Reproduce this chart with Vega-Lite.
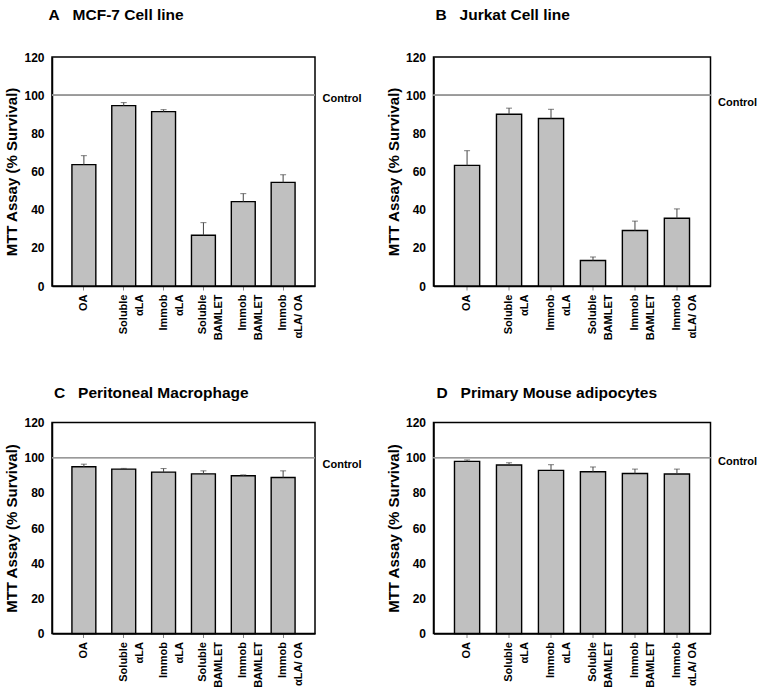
{
  "$schema": "https://vega.github.io/schema/vega-lite/v6.json",
  "padding": {"left": 4, "top": 7, "right": 10, "bottom": 20},
  "background": "white",
  "datasets": {
    "A": [
      {"cat": "OA", "mean": 63.6, "upper": 68.3},
      {"cat": "Soluble|αLA", "mean": 94.5, "upper": 96.1},
      {"cat": "Immob|αLA", "mean": 91.4, "upper": 92.4},
      {"cat": "Soluble|BAMLET", "mean": 26.6, "upper": 33.2},
      {"cat": "Immob|BAMLET", "mean": 44.2, "upper": 48.4},
      {"cat": "Immob|αLA/ OA", "mean": 54.3, "upper": 58.3}
    ],
    "B": [
      {"cat": "OA", "mean": 63.2, "upper": 70.9},
      {"cat": "Soluble|αLA", "mean": 90.0, "upper": 93.2},
      {"cat": "Immob|αLA", "mean": 87.8, "upper": 92.6},
      {"cat": "Soluble|BAMLET", "mean": 13.4, "upper": 15.2},
      {"cat": "Immob|BAMLET", "mean": 29.1, "upper": 34.0},
      {"cat": "Immob|αLA/ OA", "mean": 35.5, "upper": 40.4}
    ],
    "C": [
      {"cat": "OA", "mean": 94.8, "upper": 96.3},
      {"cat": "Soluble|αLA", "mean": 93.5, "upper": 93.9},
      {"cat": "Immob|αLA", "mean": 91.8, "upper": 93.8},
      {"cat": "Soluble|BAMLET", "mean": 90.8, "upper": 92.5},
      {"cat": "Immob|BAMLET", "mean": 89.7, "upper": 90.2},
      {"cat": "Immob|αLA/ OA", "mean": 88.7, "upper": 92.5}
    ],
    "D": [
      {"cat": "OA", "mean": 97.9, "upper": 98.7},
      {"cat": "Soluble|αLA", "mean": 95.8, "upper": 97.1},
      {"cat": "Immob|αLA", "mean": 92.8, "upper": 96.0},
      {"cat": "Soluble|BAMLET", "mean": 92.0, "upper": 94.7},
      {"cat": "Immob|BAMLET", "mean": 91.0, "upper": 93.5},
      {"cat": "Immob|αLA/ OA", "mean": 90.7, "upper": 93.5}
    ]
  },
  "columns": 2,
  "spacing": {"row": 136.5, "column": 118.5},
  "bounds": "flush",
  "concat": [
    {
      "width": 263, "height": 229,
      "title": {"text": "A\u00a0\u00a0\u00a0MCF-7 Cell line", "anchor": "start", "frame": "group", "offset": 27.5, "dx": -3.5},
      "data": {"name": "A"},
      "layer": [
        {"mark": {"type": "bar", "fill": "#c0c0c0", "stroke": "#000", "strokeWidth": 1.4},
         "encoding": {"x": {"field": "cat", "type": "nominal", "sort": null, "title": null, "scale": {"paddingInner": 0.4, "paddingOuter": 0.5}},
                      "y": {"field": "mean", "type": "quantitative", "scale": {"domain": [0, 120], "nice": false}, "axis": {"values": [0, 20, 40, 60, 80, 100, 120], "title": "MTT Assay (% Survival)"}}}},
        {"mark": {"type": "rule", "color": "#444", "strokeWidth": 1},
         "encoding": {"x": {"field": "cat", "type": "nominal", "sort": null, "title": null},
                      "y": {"field": "mean", "type": "quantitative", "scale": {"domain": [0, 120], "nice": false}, "axis": null}, "y2": {"field": "upper"}}},
        {"mark": {"type": "tick", "color": "#444", "thickness": 1, "size": 6},
         "encoding": {"x": {"field": "cat", "type": "nominal", "sort": null, "title": null},
                      "y": {"field": "upper", "type": "quantitative", "scale": {"domain": [0, 120], "nice": false}, "axis": null}}},
        {"mark": {"type": "rule", "color": "#999", "strokeWidth": 1},
         "encoding": {"y": {"datum": 100, "type": "quantitative", "scale": {"domain": [0, 120], "nice": false}, "axis": {"orient": "right", "values": [100], "labelExpr": "'Control'", "title": null, "labelOffset": 3}}}}
      ],
      "resolve": {"axis": {"y": "independent"}}
    },
    {
      "width": 277, "height": 229,
      "title": {"text": "B\u00a0\u00a0\u00a0Jurkat Cell line", "anchor": "start", "frame": "group", "offset": 27.5, "dx": 2},
      "data": {"name": "B"},
      "layer": [
        {"mark": {"type": "bar", "fill": "#c0c0c0", "stroke": "#000", "strokeWidth": 1.4},
         "encoding": {"x": {"field": "cat", "type": "nominal", "sort": null, "title": null, "scale": {"paddingInner": 0.4, "paddingOuter": 0.5}},
                      "y": {"field": "mean", "type": "quantitative", "scale": {"domain": [0, 120], "nice": false}, "axis": {"values": [0, 20, 40, 60, 80, 100, 120], "title": "MTT Assay (% Survival)"}}}},
        {"mark": {"type": "rule", "color": "#444", "strokeWidth": 1},
         "encoding": {"x": {"field": "cat", "type": "nominal", "sort": null, "title": null},
                      "y": {"field": "mean", "type": "quantitative", "scale": {"domain": [0, 120], "nice": false}, "axis": null}, "y2": {"field": "upper"}}},
        {"mark": {"type": "tick", "color": "#444", "thickness": 1, "size": 6},
         "encoding": {"x": {"field": "cat", "type": "nominal", "sort": null, "title": null},
                      "y": {"field": "upper", "type": "quantitative", "scale": {"domain": [0, 120], "nice": false}, "axis": null}}},
        {"mark": {"type": "rule", "color": "#999", "strokeWidth": 1},
         "encoding": {"y": {"datum": 100, "type": "quantitative", "scale": {"domain": [0, 120], "nice": false}, "axis": {"orient": "right", "values": [100], "labelExpr": "'Control'", "title": null, "labelOffset": 7}}}}
      ],
      "resolve": {"axis": {"y": "independent"}}
    },
    {
      "width": 263, "height": 211,
      "title": {"text": "C\u00a0\u00a0\u00a0Peritoneal Macrophage", "anchor": "start", "frame": "group", "offset": 15.5, "dx": 2},
      "data": {"name": "C"},
      "layer": [
        {"mark": {"type": "bar", "fill": "#c0c0c0", "stroke": "#000", "strokeWidth": 1.4},
         "encoding": {"x": {"field": "cat", "type": "nominal", "sort": null, "title": null, "scale": {"paddingInner": 0.4, "paddingOuter": 0.5}},
                      "y": {"field": "mean", "type": "quantitative", "scale": {"domain": [0, 120], "nice": false}, "axis": {"values": [0, 20, 40, 60, 80, 100, 120], "title": "MTT Assay (% Survival)"}}}},
        {"mark": {"type": "rule", "color": "#444", "strokeWidth": 1},
         "encoding": {"x": {"field": "cat", "type": "nominal", "sort": null, "title": null},
                      "y": {"field": "mean", "type": "quantitative", "scale": {"domain": [0, 120], "nice": false}, "axis": null}, "y2": {"field": "upper"}}},
        {"mark": {"type": "tick", "color": "#444", "thickness": 1, "size": 6},
         "encoding": {"x": {"field": "cat", "type": "nominal", "sort": null, "title": null},
                      "y": {"field": "upper", "type": "quantitative", "scale": {"domain": [0, 120], "nice": false}, "axis": null}}},
        {"mark": {"type": "rule", "color": "#999", "strokeWidth": 1},
         "encoding": {"y": {"datum": 100, "type": "quantitative", "scale": {"domain": [0, 120], "nice": false}, "axis": {"orient": "right", "values": [100], "labelExpr": "'Control'", "title": null, "labelOffset": 7}}}}
      ],
      "resolve": {"axis": {"y": "independent"}}
    },
    {
      "width": 277, "height": 211,
      "title": {"text": "D\u00a0\u00a0\u00a0Primary Mouse adipocytes", "anchor": "start", "frame": "group", "offset": 15.5, "dx": 3},
      "data": {"name": "D"},
      "layer": [
        {"mark": {"type": "bar", "fill": "#c0c0c0", "stroke": "#000", "strokeWidth": 1.4},
         "encoding": {"x": {"field": "cat", "type": "nominal", "sort": null, "title": null, "scale": {"paddingInner": 0.4, "paddingOuter": 0.5}},
                      "y": {"field": "mean", "type": "quantitative", "scale": {"domain": [0, 120], "nice": false}, "axis": {"values": [0, 20, 40, 60, 80, 100, 120], "title": "MTT Assay (% Survival)"}}}},
        {"mark": {"type": "rule", "color": "#444", "strokeWidth": 1},
         "encoding": {"x": {"field": "cat", "type": "nominal", "sort": null, "title": null},
                      "y": {"field": "mean", "type": "quantitative", "scale": {"domain": [0, 120], "nice": false}, "axis": null}, "y2": {"field": "upper"}}},
        {"mark": {"type": "tick", "color": "#444", "thickness": 1, "size": 6},
         "encoding": {"x": {"field": "cat", "type": "nominal", "sort": null, "title": null},
                      "y": {"field": "upper", "type": "quantitative", "scale": {"domain": [0, 120], "nice": false}, "axis": null}}},
        {"mark": {"type": "rule", "color": "#999", "strokeWidth": 1},
         "encoding": {"y": {"datum": 100, "type": "quantitative", "scale": {"domain": [0, 120], "nice": false}, "axis": {"orient": "right", "values": [100], "labelExpr": "'Control'", "title": null, "labelOffset": 3.5}}}}
      ],
      "resolve": {"axis": {"y": "independent"}}
    }
  ],
  "config": {
    "font": "Liberation Sans",
    "view": {"stroke": "#000", "strokeWidth": 1.5},
    "axis": {"grid": false},
    "axisLeft": {"ticks": false, "labelPadding": 8, "labelFont": "Liberation Sans", "labelFontSize": 12, "labelFontWeight": "bold", "labelColor": "#000", "domainColor": "#000", "domainWidth": 1.5, "titleFont": "Liberation Sans", "titleFontSize": 15, "titleFontWeight": "bold", "titleColor": "#000", "titlePadding": 4},
    "axisRight": {"ticks": false, "domain": false, "labelPadding": 7, "labelFont": "Liberation Sans", "labelFontSize": 11, "labelFontWeight": "bold", "labelColor": "#000", "labelAlign": "left"},
    "axisBottom": {"labelAngle": -90, "labelAlign": "right", "labelBaseline": "middle", "labelExpr": "split(datum.label, '|')", "labelLineHeight": 16, "labelFont": "Liberation Sans", "labelFontSize": 11, "labelFontWeight": "bold", "labelColor": "#000", "labelPadding": 4, "tickSize": 4, "tickColor": "#888", "domainColor": "#000", "domainWidth": 1.5},
    "title": {"font": "Liberation Sans", "fontSize": 15.5, "fontWeight": "bold", "color": "#000"}
  }
}
